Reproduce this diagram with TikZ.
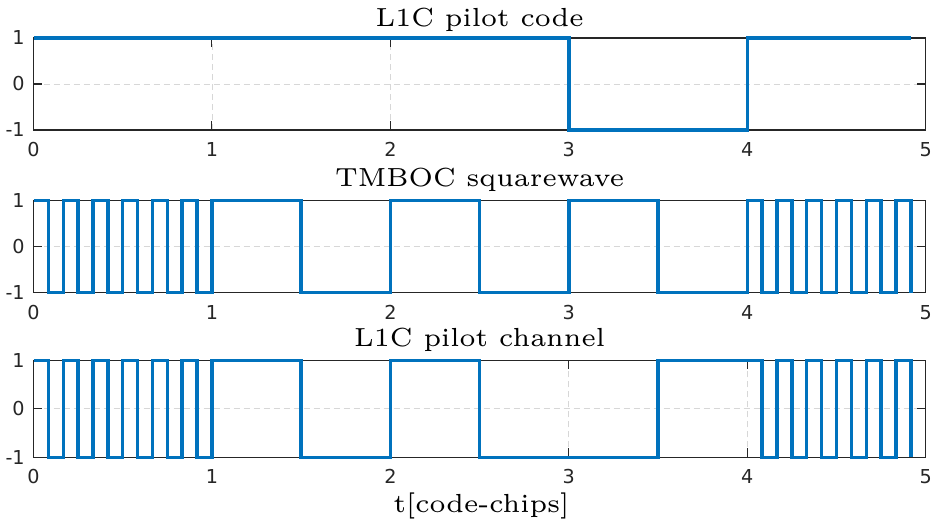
\documentclass[tikz,border=0pt]{standalone}
\usepackage{fontspec}
\usepackage{graphicx}
\newfontfamily\tickfont{DejaVu Sans}
\definecolor{matblue}{RGB}{0,114,189}
\definecolor{axisgray}{RGB}{38,38,38}
\definecolor{gridgray}{RGB}{215,215,215}
\tikzset{
  axisbox/.style={draw=axisgray, line width=0.8pt},
  gridline/.style={draw=gridgray, line width=0.6pt, dash pattern=on 4.5pt off 3pt},
  signal/.style={draw=matblue, line width=2.6pt},
  ticklabel/.style={font=\tickfont\fontsize{14.4}{16}\selectfont, text=axisgray, inner sep=0pt},
  plottitle/.style={anchor=base, inner sep=0pt},
}
\newcommand\titletext[1]{\scalebox{3.27}{\fontsize{6}{7}\selectfont #1}}
% axes of one panel, in data units (t from 0 to 5, value from -1 to 1)
\newcommand\chipaxes[1]{%
  \foreach \i in {1,...,4} \draw[gridline] (\i,-1) -- (\i,1);
  \draw[gridline] (0,0) -- (5,0);
  \draw[axisbox] (0,-1) rectangle (5,1);
  \foreach \i in {0,...,5} {
    \draw[axisbox] (\i,-1) -- ++(0,6.7pt);
    \draw[axisbox] (\i,1) -- ++(0,-6.7pt);
    \node[ticklabel] (#1x\i) at ([yshift=-14.6pt]\i,-1) {\i};
  }
  \foreach \j/\n in {-1/m,0/z,1/p} {
    \draw[axisbox] (0,\j) -- ++(6.7pt,0);
    \draw[axisbox] (5,\j) -- ++(-6.7pt,0);
    \node[ticklabel, anchor=east] (#1y\n) at ([xshift=-6.4pt]0,\j) {\j};
  }
}
\begin{document}
\begin{tikzpicture}
\useasboundingbox (0,0) rectangle (698.25pt,394.5pt);

% pilot code
\begin{scope}[shift={(25.125pt,331.5pt)}, x=133.83pt, y=34.5pt]
\chipaxes{code}
\draw[signal] plot[const plot] coordinates {(0,1) (3,-1) (4,1) (4.9167,1)};
\node[plottitle] (codetitle) at ([yshift=8.5pt]2.5,1) {\titletext{L1C pilot code}};
\end{scope}

% TMBOC squarewave
\begin{scope}[shift={(25.125pt,209.625pt)}, x=133.83pt, y=34.65pt]
\chipaxes{boc}
\draw[signal] plot[const plot] coordinates {
  (0,1) (0.0833,-1) (0.1667,1) (0.25,-1) (0.3333,1) (0.4167,-1)
  (0.5,1) (0.5833,-1) (0.6667,1) (0.75,-1) (0.8333,1) (0.9167,-1)
  (1,1) (1.5,-1) (2,1) (2.5,-1) (3,1) (3.5,-1)
  (4,1) (4.0833,-1) (4.1667,1) (4.25,-1) (4.3333,1) (4.4167,-1)
  (4.5,1) (4.5833,-1) (4.6667,1) (4.75,-1) (4.8333,1) (4.9167,-1)};
\node[plottitle] (boctitle) at ([yshift=10.7pt]2.5,1) {\titletext{TMBOC squarewave}};
\end{scope}

% pilot channel
\begin{scope}[shift={(25.125pt,87.9pt)}, x=133.83pt, y=36.375pt]
\chipaxes{chan}
\draw[signal] plot[const plot] coordinates {
  (0,1) (0.0833,-1) (0.1667,1) (0.25,-1) (0.3333,1) (0.4167,-1)
  (0.5,1) (0.5833,-1) (0.6667,1) (0.75,-1) (0.8333,1) (0.9167,-1)
  (1,1) (1.5,-1) (2,1) (2.5,-1) (3.5,1)
  (4.0833,-1) (4.1667,1) (4.25,-1) (4.3333,1) (4.4167,-1)
  (4.5,1) (4.5833,-1) (4.6667,1) (4.75,-1) (4.8333,1) (4.9167,-1)};
\node[plottitle] (chantitle) at ([yshift=10.2pt]2.5,1) {\titletext{L1C pilot channel}};
\node[plottitle] (tlabel) at ([yshift=-41.5pt]2.51,-1) {\titletext{t[code-chips]}};
\end{scope}
\end{tikzpicture}
\end{document}
